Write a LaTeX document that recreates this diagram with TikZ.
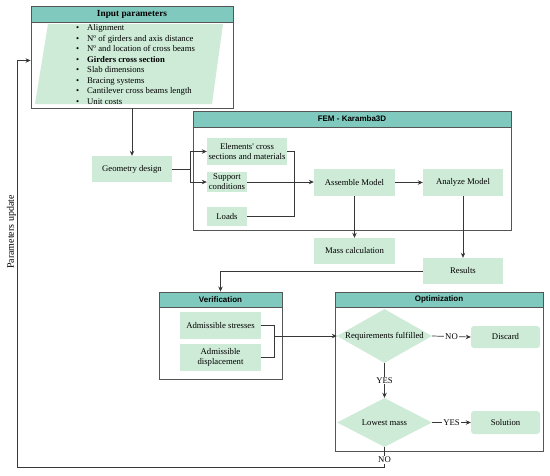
\documentclass[tikz,border=0pt]{standalone}
\usepackage{fontspec}
\setmainfont{Liberation Serif}
\setsansfont{Liberation Sans}
\usetikzlibrary{shapes.geometric,arrows.meta,calc}
\definecolor{headc}{RGB}{128,201,190}
\definecolor{boxc}{RGB}{206,235,215}
\definecolor{linec}{RGB}{55,55,55}
\definecolor{framec}{RGB}{85,85,85}
\begin{document}
\begin{tikzpicture}[x=1pt,y=-1pt,
  bodyfont/.style={font=\fontsize{8.7}{10}\selectfont},
  gbox/.style={bodyfont, fill=boxc, draw=none, align=center, inner sep=1pt},
  rbox/.style={gbox, rounded corners=3pt},
  dia/.style={shape=diamond, fill=boxc, draw=none, inner sep=0pt, bodyfont},
  frame/.style={draw=framec, line width=0.9pt, fill=none, inner sep=0pt},
  head/.style={draw=framec, line width=0.9pt, fill=headc, inner sep=0pt, anchor=north, font=\sffamily\bfseries\fontsize{8}{9}\selectfont},
  ln/.style={draw=linec, line width=0.7pt},
  arr/.style={ln, -{Stealth[length=5pt,width=4.5pt]}},
  lab/.style={bodyfont, fill=white, inner sep=1pt}
]
\useasboundingbox (0,0) rectangle (550,475);

% Input parameters
\node[frame, minimum width=202pt, minimum height=102pt] (inp) at (132,57) {};
\node[head, minimum width=202pt, minimum height=16pt, font=\bfseries\fontsize{9.3}{10}\selectfont] (inph) at (inp.north) {Input parameters};
\fill[boxc] (48,24) -- (223,24) -- (212,104) -- (35,104) -- cycle;
\node[font=\fontsize{8.7}{10.55}\selectfont, anchor=west, align=left, inner sep=0pt] (inpl) at (76,64.5) {%
\makebox[11pt][l]{\textbullet}Alignment\\
\makebox[11pt][l]{\textbullet}Nº of girders and axis distance\\
\makebox[11pt][l]{\textbullet}Nº and location of cross beams\\
\makebox[11pt][l]{\textbullet}\textbf{Girders cross section}\\
\makebox[11pt][l]{\textbullet}Slab dimensions\\
\makebox[11pt][l]{\textbullet}Bracing systems\\
\makebox[11pt][l]{\textbullet}Cantilever cross beams length\\
\makebox[11pt][l]{\textbullet}Unit costs};

% FEM
\node[frame, minimum width=318pt, minimum height=119pt] (fem) at (352,170.5) {};
\node[head, minimum width=318pt, minimum height=16pt] (femh) at (fem.north) {FEM - Karamba3D};

% Verification
\node[frame, minimum width=123pt, minimum height=87pt] (ver) at (220.5,335.5) {};
\node[head, minimum width=123pt, minimum height=15pt] (verh) at (ver.north) {Verification};

% Optimization
\node[frame, minimum width=208pt, minimum height=159pt] (opt) at (439,371.5) {};
\node[head, minimum width=208pt, minimum height=15pt] (opth) at (opt.north) {Optimization};

% boxes
\node[gbox, minimum width=80pt, minimum height=26pt] (geom) at (132,169) {Geometry design};
\node[gbox, minimum width=80pt, minimum height=27pt] (elem) at (247,151.5) {Elements\textquotesingle\ cross\\sections and materials};
\node[gbox, minimum width=40pt, minimum height=20pt] (supp) at (227,182) {Support\\conditions};
\node[gbox, minimum width=40pt, minimum height=19pt] (loads) at (227,216.5) {Loads};
\node[gbox, minimum width=81pt, minimum height=27pt] (asm) at (354.5,182.5) {Assemble Model};
\node[gbox, minimum width=80pt, minimum height=27pt] (ana) at (463,182.5) {Analyze Model};
\node[gbox, minimum width=81pt, minimum height=26pt] (mass) at (354.5,251) {Mass calculation};
\node[gbox, minimum width=80pt, minimum height=26pt] (res) at (463,271) {Results};
\node[gbox, minimum width=81pt, minimum height=27pt] (str) at (220.5,325.5) {Admissible stresses};
\node[gbox, minimum width=81pt, minimum height=27pt] (disp) at (220.5,357.5) {Admissible\\displacement};
\node[dia, minimum width=95pt, minimum height=54pt] (req) at (384.5,336) {\makebox[0pt]{Requirements fulfilled}};
\node[rbox, minimum width=69pt, minimum height=22pt] (disc) at (505.5,337) {Discard};
\node[dia, minimum width=95pt, minimum height=49pt] (low) at (384.5,422.5) {\makebox[0pt]{Lowest mass}};
\node[rbox, minimum width=69pt, minimum height=23pt] (sol) at (505.5,422.5) {Solution};

\node[font=\fontsize{10}{11}\selectfont, rotate=90, inner sep=0pt] (pu) at (11.5,232) {Parameters update};

% connectors
\draw[arr] (inp.south) -- (geom.north);
\draw[arr] (geom.east) -- ++(18,0) |- (elem.west);
\draw[arr] (geom.east) -- ++(18,0) |- (supp.west);
\draw[ln] (elem.east) -- ++(7,0) |- (loads.east);
\draw[arr] (supp.east) -- (supp.east -| asm.west);
\draw[arr] (asm.east) -- (asm.east -| ana.west);
\draw[arr] (asm.south) -- (mass.north);
\draw[arr] (ana.south) -- (res.north);
\draw[arr] (res.west) -| (ver.north);
\coordinate (brk) at ($(str.east)+(13,0)$);
\draw[ln] (str.east) -- (brk) |- (disp.east);
\draw[arr] (brk |- req.west) -- (req.west);
\draw[arr] (req.east) -- node[lab]{NO} (disc.west);
\draw[arr] (req.south) -- node[lab]{YES} (low.north);
\draw[arr] (low.east) -- node[lab]{YES} (sol.west);
\coordinate (lpl) at (17,467);
\coordinate (lpt) at (17,60.5);
\draw[arr] (low.south) -- node[lab, pos=0.65]{NO} (low.south |- lpl) -- (lpl) -- (lpt) -- (lpt -| inp.west);
\end{tikzpicture}
\end{document}
